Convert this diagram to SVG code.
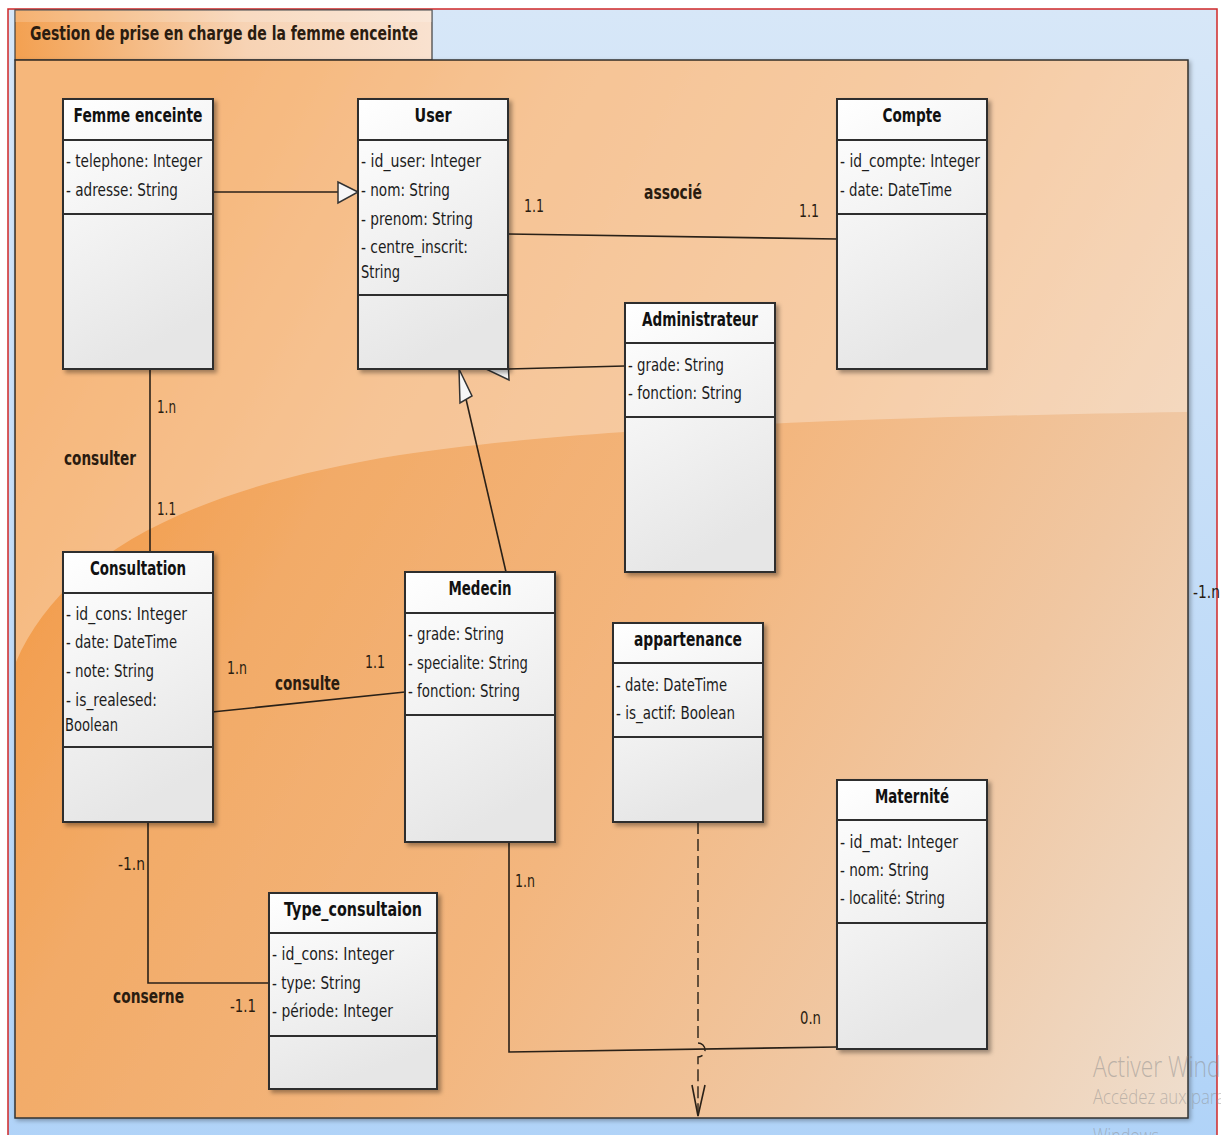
<svg xmlns="http://www.w3.org/2000/svg" width="1221" height="1135" viewBox="0 0 1221 1135">
  <defs>
    <linearGradient id="sky" x1="0" y1="0" x2="0" y2="1">
      <stop offset="0" stop-color="#d7e7f8"/>
      <stop offset="1" stop-color="#b0d3f8"/>
    </linearGradient>
    <linearGradient id="pkg" gradientUnits="userSpaceOnUse" x1="0" y1="450" x2="1221" y2="1135">
      <stop offset="0" stop-color="#f39842"/>
      <stop offset="0.22" stop-color="#f2ab68"/>
      <stop offset="0.48" stop-color="#f3b67e"/>
      <stop offset="0.72" stop-color="#f0c7a2"/>
      <stop offset="1" stop-color="#eee0d2"/>
    </linearGradient>
    <linearGradient id="tabg" gradientUnits="userSpaceOnUse" x1="15" y1="60" x2="432" y2="10">
      <stop offset="0" stop-color="#f3a050"/>
      <stop offset="0.55" stop-color="#f7d3b4"/>
      <stop offset="1" stop-color="#f9e2d0"/>
    </linearGradient>
    <linearGradient id="boxg" x1="0" y1="0" x2="0.3" y2="1">
      <stop offset="0" stop-color="#ffffff"/>
      <stop offset="1" stop-color="#e6e6e6"/>
    </linearGradient>
    <filter id="sh" x="-10%" y="-10%" width="130%" height="130%">
      <feDropShadow dx="3" dy="3" stdDeviation="2" flood-color="#000" flood-opacity="0.35"/>
    </filter>
    <filter id="psh" x="-5%" y="-5%" width="110%" height="110%">
      <feDropShadow dx="2" dy="2" stdDeviation="2" flood-color="#000" flood-opacity="0.3"/>
    </filter>
    <style>
      .box { fill: url(#boxg); stroke: #2e2e2e; stroke-width: 2; filter: url(#sh); }
      .sep { stroke: #2e2e2e; stroke-width: 2; }
      .name { font-family: "DejaVu Sans", "Liberation Sans", sans-serif; font-weight: bold; font-size: 19px; fill: #111; text-anchor: middle; }
      .attr { font-family: "DejaVu Sans", "Liberation Sans", sans-serif; font-size: 18px; fill: #1c1c1c; }
      .lbl { font-family: "DejaVu Sans", "Liberation Sans", sans-serif; font-size: 18px; fill: #2a1c10; }
      .rl { font-family: "DejaVu Sans", "Liberation Sans", sans-serif; font-weight: bold; font-size: 19px; fill: #2a1c10; }
      .edge { fill: none; stroke: #2a2118; stroke-width: 1.6; }
      .dash { fill: none; stroke: #2a2118; stroke-width: 1.4; stroke-dasharray: 12 5; }
      .gen { fill: #f7f7f7; stroke: #333; stroke-width: 1.5; }
      .wm { font-family: "Open Sans", "Liberation Sans", sans-serif; font-weight: 300; fill: #8a8a8a; fill-opacity: 0.5; }
    </style>
  </defs>

  <!-- window background and frame -->
  <rect x="0" y="0" width="1221" height="1135" fill="#ffffff"/>
  <rect x="8" y="9" width="1209" height="1140" fill="url(#sky)" stroke="#d02828" stroke-width="1.5"/>

  <!-- package tab and body -->
  <g id="package">
    <rect x="15" y="10" width="417" height="50" fill="url(#tabg)" stroke="#3c3c3c" stroke-width="1.2"/>
    <path d="M15,22 H432 V10 H15 Z" fill="#ffffff" fill-opacity="0.18"/>
    <text x="30" y="40" class="rl" font-size="20" fill="#222" textLength="388" lengthAdjust="spacingAndGlyphs">Gestion de prise en charge de la femme enceinte</text>
    <rect x="15" y="60" width="1173" height="1058" fill="url(#pkg)" stroke="#333" stroke-width="1.5" filter="url(#psh)"/>
    <path d="M16,61 H1187 V412 C800,418 550,432 400,455 C180,490 60,560 16,662 Z" fill="#ffffff" fill-opacity="0.3"/>
  </g>

  <!-- connectors -->
  <g id="connectors">
    <!-- Femme enceinte generalises User -->
    <line class="edge" x1="213" y1="192" x2="340" y2="192"/>
    <polygon class="gen" points="358,192 338,182 338,203"/>
    <!-- User associé Compte -->
    <line class="edge" x1="508" y1="234" x2="837" y2="239"/>
    <!-- Administrateur generalises User -->
    <line class="edge" x1="625" y1="366" x2="508" y2="369"/>
    <polygon class="gen" points="488,370 508,359 509,380"/>
    <!-- Medecin generalises User -->
    <line class="edge" x1="506" y1="572" x2="466" y2="399"/>
    <polygon class="gen" points="459,369 472,396 460,403"/>
    <!-- Femme enceinte consulter Consultation -->
    <line class="edge" x1="150" y1="369" x2="150" y2="552"/>
    <!-- Consultation consulte Medecin -->
    <line class="edge" x1="212" y1="712" x2="405" y2="692"/>
    <!-- Consultation conserne Type_consultaion -->
    <polyline class="edge" points="148,822 148,983 269,983"/>
    <!-- Medecin to Maternité -->
    <polyline class="edge" points="509,842 509,1052 837,1047"/>
    <!-- appartenance dependency with line hop -->
    <path class="dash" d="M698,822 V1043 A7,7 0 0 1 698,1057 V1116"/>
    <polyline class="edge" points="692,1085 698,1116 705,1085"/>

    <text class="lbl" x="524" y="212" textLength="20" lengthAdjust="spacingAndGlyphs">1.1</text>
    <text class="rl" x="644" y="199" textLength="58" lengthAdjust="spacingAndGlyphs">associé</text>
    <text class="lbl" x="799" y="217" textLength="20" lengthAdjust="spacingAndGlyphs">1.1</text>
    <text class="lbl" x="157" y="413" textLength="19" lengthAdjust="spacingAndGlyphs">1.n</text>
    <text class="rl" x="64" y="465" textLength="72" lengthAdjust="spacingAndGlyphs">consulter</text>
    <text class="lbl" x="157" y="515" textLength="19" lengthAdjust="spacingAndGlyphs">1.1</text>
    <text class="lbl" x="227" y="674" textLength="20" lengthAdjust="spacingAndGlyphs">1.n</text>
    <text class="rl" x="275" y="690" textLength="65" lengthAdjust="spacingAndGlyphs">consulte</text>
    <text class="lbl" x="365" y="668" textLength="20" lengthAdjust="spacingAndGlyphs">1.1</text>
    <text class="lbl" x="118" y="870" textLength="27" lengthAdjust="spacingAndGlyphs">-1.n</text>
    <text class="rl" x="113" y="1003" textLength="71" lengthAdjust="spacingAndGlyphs">conserne</text>
    <text class="lbl" x="230" y="1012" textLength="26" lengthAdjust="spacingAndGlyphs">-1.1</text>
    <text class="lbl" x="515" y="887" textLength="20" lengthAdjust="spacingAndGlyphs">1.n</text>
    <text class="lbl" x="800" y="1024" textLength="21" lengthAdjust="spacingAndGlyphs">0.n</text>
    <text class="lbl" x="1193" y="598" textLength="27" lengthAdjust="spacingAndGlyphs">-1.n</text>
  </g>

  <!-- classes -->
  <g id="femme-enceinte">
    <rect class="box" x="63" y="99" width="150" height="270"/>
    <line class="sep" x1="63" y1="140" x2="213" y2="140"/>
    <line class="sep" x1="63" y1="214" x2="213" y2="214"/>
    <text class="name" x="138" y="122" textLength="129" lengthAdjust="spacingAndGlyphs">Femme enceinte</text>
    <text class="attr" x="66" y="167" textLength="136" lengthAdjust="spacingAndGlyphs">- telephone: Integer</text>
    <text class="attr" x="66" y="196" textLength="112" lengthAdjust="spacingAndGlyphs">- adresse: String</text>
  </g>

  <g id="user">
    <rect class="box" x="358" y="99" width="150" height="270"/>
    <line class="sep" x1="358" y1="140" x2="508" y2="140"/>
    <line class="sep" x1="358" y1="295" x2="508" y2="295"/>
    <text class="name" x="433" y="122" textLength="37" lengthAdjust="spacingAndGlyphs">User</text>
    <text class="attr" x="361" y="167" textLength="120" lengthAdjust="spacingAndGlyphs">- id_user: Integer</text>
    <text class="attr" x="361" y="196" textLength="89" lengthAdjust="spacingAndGlyphs">- nom: String</text>
    <text class="attr" x="361" y="225" textLength="112" lengthAdjust="spacingAndGlyphs">- prenom: String</text>
    <text class="attr" x="361" y="253" textLength="107" lengthAdjust="spacingAndGlyphs">- centre_inscrit:</text>
    <text class="attr" x="361" y="278" textLength="39" lengthAdjust="spacingAndGlyphs">String</text>
  </g>

  <g id="compte">
    <rect class="box" x="837" y="99" width="150" height="270"/>
    <line class="sep" x1="837" y1="140" x2="987" y2="140"/>
    <line class="sep" x1="837" y1="214" x2="987" y2="214"/>
    <text class="name" x="912" y="122" textLength="59" lengthAdjust="spacingAndGlyphs">Compte</text>
    <text class="attr" x="840" y="167" textLength="140" lengthAdjust="spacingAndGlyphs">- id_compte: Integer</text>
    <text class="attr" x="840" y="196" textLength="112" lengthAdjust="spacingAndGlyphs">- date: DateTime</text>
  </g>

  <g id="administrateur">
    <rect class="box" x="625" y="303" width="150" height="269"/>
    <line class="sep" x1="625" y1="343" x2="775" y2="343"/>
    <line class="sep" x1="625" y1="417" x2="775" y2="417"/>
    <text class="name" x="700" y="326" textLength="116" lengthAdjust="spacingAndGlyphs">Administrateur</text>
    <text class="attr" x="628" y="371" textLength="96" lengthAdjust="spacingAndGlyphs">- grade: String</text>
    <text class="attr" x="628" y="399" textLength="114" lengthAdjust="spacingAndGlyphs">- fonction: String</text>
  </g>

  <g id="consultation">
    <rect class="box" x="63" y="552" width="150" height="270"/>
    <line class="sep" x1="63" y1="593" x2="213" y2="593"/>
    <line class="sep" x1="63" y1="747" x2="213" y2="747"/>
    <text class="name" x="138" y="575" textLength="96" lengthAdjust="spacingAndGlyphs">Consultation</text>
    <text class="attr" x="66" y="620" textLength="121" lengthAdjust="spacingAndGlyphs">- id_cons: Integer</text>
    <text class="attr" x="66" y="648" textLength="111" lengthAdjust="spacingAndGlyphs">- date: DateTime</text>
    <text class="attr" x="66" y="677" textLength="88" lengthAdjust="spacingAndGlyphs">- note: String</text>
    <text class="attr" x="66" y="706" textLength="91" lengthAdjust="spacingAndGlyphs">- is_realesed:</text>
    <text class="attr" x="65" y="731" textLength="53" lengthAdjust="spacingAndGlyphs">Boolean</text>
  </g>

  <g id="medecin">
    <rect class="box" x="405" y="572" width="150" height="270"/>
    <line class="sep" x1="405" y1="613" x2="555" y2="613"/>
    <line class="sep" x1="405" y1="715" x2="555" y2="715"/>
    <text class="name" x="480" y="595" textLength="63" lengthAdjust="spacingAndGlyphs">Medecin</text>
    <text class="attr" x="408" y="640" textLength="96" lengthAdjust="spacingAndGlyphs">- grade: String</text>
    <text class="attr" x="408" y="669" textLength="120" lengthAdjust="spacingAndGlyphs">- specialite: String</text>
    <text class="attr" x="408" y="697" textLength="112" lengthAdjust="spacingAndGlyphs">- fonction: String</text>
  </g>

  <g id="appartenance">
    <rect class="box" x="613" y="623" width="150" height="199"/>
    <line class="sep" x1="613" y1="663" x2="763" y2="663"/>
    <line class="sep" x1="613" y1="737" x2="763" y2="737"/>
    <text class="name" x="688" y="646" textLength="108" lengthAdjust="spacingAndGlyphs">appartenance</text>
    <text class="attr" x="616" y="691" textLength="111" lengthAdjust="spacingAndGlyphs">- date: DateTime</text>
    <text class="attr" x="616" y="719" textLength="119" lengthAdjust="spacingAndGlyphs">- is_actif: Boolean</text>
  </g>

  <g id="maternite">
    <rect class="box" x="837" y="780" width="150" height="269"/>
    <line class="sep" x1="837" y1="820" x2="987" y2="820"/>
    <line class="sep" x1="837" y1="923" x2="987" y2="923"/>
    <text class="name" x="912" y="803" textLength="74" lengthAdjust="spacingAndGlyphs">Maternité</text>
    <text class="attr" x="840" y="848" textLength="118" lengthAdjust="spacingAndGlyphs">- id_mat: Integer</text>
    <text class="attr" x="840" y="876" textLength="89" lengthAdjust="spacingAndGlyphs">- nom: String</text>
    <text class="attr" x="840" y="904" textLength="105" lengthAdjust="spacingAndGlyphs">- localité: String</text>
  </g>

  <g id="type-consultaion">
    <rect class="box" x="269" y="893" width="168" height="196"/>
    <line class="sep" x1="269" y1="933" x2="437" y2="933"/>
    <line class="sep" x1="269" y1="1036" x2="437" y2="1036"/>
    <text class="name" x="353" y="916" textLength="138" lengthAdjust="spacingAndGlyphs">Type_consultaion</text>
    <text class="attr" x="272" y="960" textLength="122" lengthAdjust="spacingAndGlyphs">- id_cons: Integer</text>
    <text class="attr" x="272" y="989" textLength="89" lengthAdjust="spacingAndGlyphs">- type: String</text>
    <text class="attr" x="272" y="1017" textLength="121" lengthAdjust="spacingAndGlyphs">- période: Integer</text>
  </g>

  <!-- system activation notice over the lower right corner -->
  <g id="notice">
    <text class="wm" x="1093" y="1077" font-size="30" textLength="168" lengthAdjust="spacingAndGlyphs">Activer Windows</text>
    <text class="wm" x="1093" y="1104" font-size="20" textLength="280" lengthAdjust="spacingAndGlyphs">Accédez aux paramètres pour activer</text>
    <text class="wm" x="1093" y="1143" font-size="20" textLength="70" lengthAdjust="spacingAndGlyphs">Windows.</text>
  </g>
</svg>
